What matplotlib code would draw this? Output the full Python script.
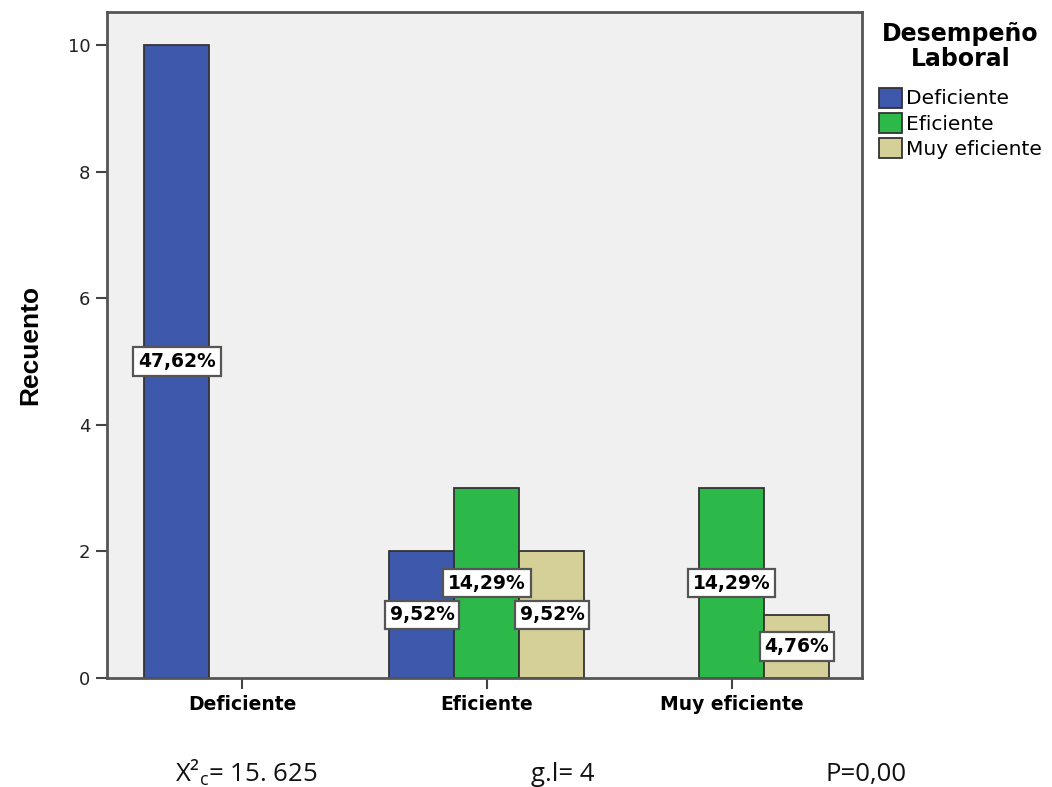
import matplotlib
matplotlib.use("Agg")
import matplotlib.pyplot as plt
import numpy as np
from matplotlib.patches import Patch

categories = ["Deficiente", "Eficiente", "Muy eficiente"]
series_names = ["Deficiente", "Eficiente", "Muy eficiente"]
deficiente = [10, 2, 0]
eficiente = [0, 3, 3]
muy_eficiente = [0, 2, 1]
pct_deficiente = ["47,62%", "9,52%", ""]
pct_eficiente = ["", "14,29%", "14,29%"]
pct_muy = ["", "9,52%", "4,76%"]
yticks = [0, 2, 4, 6, 8, 10]
footer = ["X²$_{\\mathrm{c}}$= 15. 625", "g.l= 4", "P=0,00"]

plt.rcParams["mathtext.fontset"] = "custom"
plt.rcParams["mathtext.rm"] = "Open Sans"

colors = ["#3E58AC", "#2DB84A", "#D5CF98"]
edge = "#333333"

fig = plt.figure(figsize=(10.52, 7.87), dpi=100)
ax = fig.add_axes([107/1052, 1-678/787, (862-107)/1052, (678-12)/787])
ax.set_facecolor("#F0F0F0")

x = np.arange(len(categories))
w = 65/245
series = [deficiente, eficiente, muy_eficiente]
labels = [pct_deficiente, pct_eficiente, pct_muy]
for i, (vals, labs) in enumerate(zip(series, labels)):
    xs = x + (i - 1) * w
    keep = [j for j, v in enumerate(vals) if v > 0]
    ax.bar([xs[j] for j in keep], [vals[j] for j in keep], width=w, color=colors[i],
           edgecolor=edge, linewidth=1.3, zorder=2)
    for j in keep:
        if labs[j]:
            ax.text(xs[j], vals[j] / 2, labs[j], ha="center", va="center", fontsize=13.5,
                    fontweight="bold", family="DejaVu Sans", zorder=4,
                    bbox=dict(boxstyle="square,pad=0.25", fc="white", ec="#555555", lw=1.6))

ax.set_xlim(-0.551, 2.531)
ax.set_ylim(0, 10.52)
ax.set_yticks(yticks)
ax.set_yticklabels([str(t) for t in yticks], fontsize=13, family="DejaVu Sans", color="#222222")
ax.set_xticks(x)
ax.set_xticklabels(categories, fontsize=13.5, fontweight="bold", family="DejaVu Sans")
ax.tick_params(axis="both", direction="out", length=8, width=1.5, color="#444444", pad=4)
for s in ax.spines.values():
    s.set_color("#555555")
    s.set_linewidth(2)
ax.set_ylabel("Recuento", fontsize=19, fontweight="bold",
              family=["Liberation Sans Narrow", "Liberation Sans"], labelpad=18)

handles = [Patch(facecolor=c, edgecolor=edge, linewidth=1.3) for c in colors]
leg = fig.legend(handles, series_names, loc="upper left", bbox_to_anchor=(879/1052, 1-22/787),
                 frameon=False, title="Desempeño\nLaboral", alignment="center",
                 prop={"family": "DejaVu Sans", "size": 14.5},
                 handlelength=1.15, handleheight=1.15, handletextpad=0.2, labelspacing=0.22,
                 borderaxespad=0, borderpad=0)
leg.get_title().set_fontweight("bold")
leg.get_title().set_fontsize(17)
leg.get_title().set_family("DejaVu Sans")
leg.get_title().set_multialignment("center")
leg.get_title().set_linespacing(1.05)
leg._legend_box.sep = 12

fx = [246/1052, 563/1052, 866/1052]
for xx, t in zip(fx, footer):
    fig.text(xx, 1-781/787, t, ha="center", va="baseline", fontsize=18.5, family="Open Sans",
             color="#111111")

fig.savefig("out.png", dpi=100, facecolor="white")
